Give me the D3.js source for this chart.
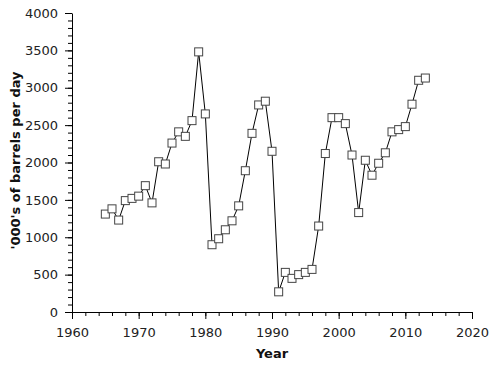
<!DOCTYPE html>
<html lang="en">
<head>
<meta charset="utf-8" />
<title>Oil production</title>
<script src="https://cdn.jsdelivr.net/npm/d3@7"></script>
<style>
  html, body { margin:0; padding:0; background:#fff; }
  svg text { font-family:"DejaVu Sans", sans-serif; fill:#222; }
  .axis-label { font-weight:bold; font-size:13px; fill:#111; }
</style>
</head>
<body>
<div id="chart"></div>
<script>
// --- data ------------------------------------------------------------------
const years = [1965,1966,1967,1968,1969,1970,1971,1972,1973,1974,
               1975,1976,1977,1978,1979,1980,1981,1982,1983,1984,
               1985,1986,1987,1988,1989,1990,1991,1992,1993,1994,
               1995,1996,1997,1998,1999,2000,2001,2002,2003,2004,
               2005,2006,2007,2008,2009,2010,2011,2012,2013];
const barrels = [1310,1380,1230,1490,1520,1550,1690,1460,2010,1980,
                 2260,2410,2350,2560,3480,2650,900,980,1100,1220,
                 1420,1890,2390,2770,2820,2150,270,530,450,500,
                 530,570,1150,2120,2600,2600,2520,2100,1330,2030,
                 1830,1990,2130,2410,2440,2480,2780,3100,3130];
const xTicks = [1960,1970,1980,1990,2000,2010,2020];
const yTicks = [0,500,1000,1500,2000,2500,3000,3500,4000];

// --- chart -----------------------------------------------------------------
const W = 495, H = 373;
const margin = {top:13, right:23, bottom:61, left:72};
const innerW = W - margin.left - margin.right;
const innerH = H - margin.top - margin.bottom;

const svg = d3.select("#chart").append("svg")
  .attr("width", W).attr("height", H);
const g = svg.append("g")
  .attr("transform", `translate(${margin.left},${margin.top})`);

const x = d3.scaleLinear().domain([1960, 2020]).range([0, innerW]);
const y = d3.scaleLinear().domain([0, 4000]).range([innerH, 0]);

// minor ticks first, then major axes on top
g.append("g").attr("transform", `translate(0,${innerH})`)
  .call(d3.axisBottom(x).tickValues(d3.range(1960, 2021, 2)).tickSize(4).tickFormat(""))
  .call(a => a.select(".domain").remove());
g.append("g")
  .call(d3.axisLeft(y).tickValues(d3.range(0, 4001, 100)).tickSize(4).tickFormat(""))
  .call(a => a.select(".domain").remove());

const xAxis = g.append("g").attr("transform", `translate(0,${innerH})`)
  .call(d3.axisBottom(x).tickValues(xTicks).tickSize(7).tickSizeOuter(0).tickPadding(9).tickFormat(d3.format("d")));
const yAxis = g.append("g")
  .call(d3.axisLeft(y).tickValues(yTicks).tickSize(7).tickSizeOuter(0).tickPadding(7).tickFormat(d3.format("d")));

[xAxis, yAxis].forEach(a => {
  a.selectAll("text").style("font-size", "13px").attr("fill", "#222");
});
svg.selectAll(".tick line, .domain").attr("stroke", "#000");

// axis titles
svg.append("text").attr("class", "axis-label")
  .attr("x", margin.left + innerW / 2).attr("y", 358)
  .attr("text-anchor", "middle").text("Year");
svg.append("text").attr("class", "axis-label")
  .attr("transform", `translate(20,${margin.top + innerH / 2 - 2}) rotate(-90)`)
  .attr("text-anchor", "middle").text("'000's of barrels per day");

// line + markers
const pts = years.map((yr, i) => ({yr, v: barrels[i]}));
const line = d3.line().x(d => x(d.yr)).y(d => y(d.v));

g.append("path").datum(pts)
  .attr("d", line).attr("fill", "none")
  .attr("stroke", "#000").attr("stroke-width", 1);

const s = 8;
g.selectAll("rect.pt").data(pts).join("rect")
  .attr("class", "pt")
  .attr("x", d => x(d.yr) - s / 2).attr("y", d => y(d.v) - s / 2)
  .attr("width", s).attr("height", s)
  .attr("fill", "#fff").attr("stroke", "#444").attr("stroke-width", 1);
</script>
</body>
</html>
